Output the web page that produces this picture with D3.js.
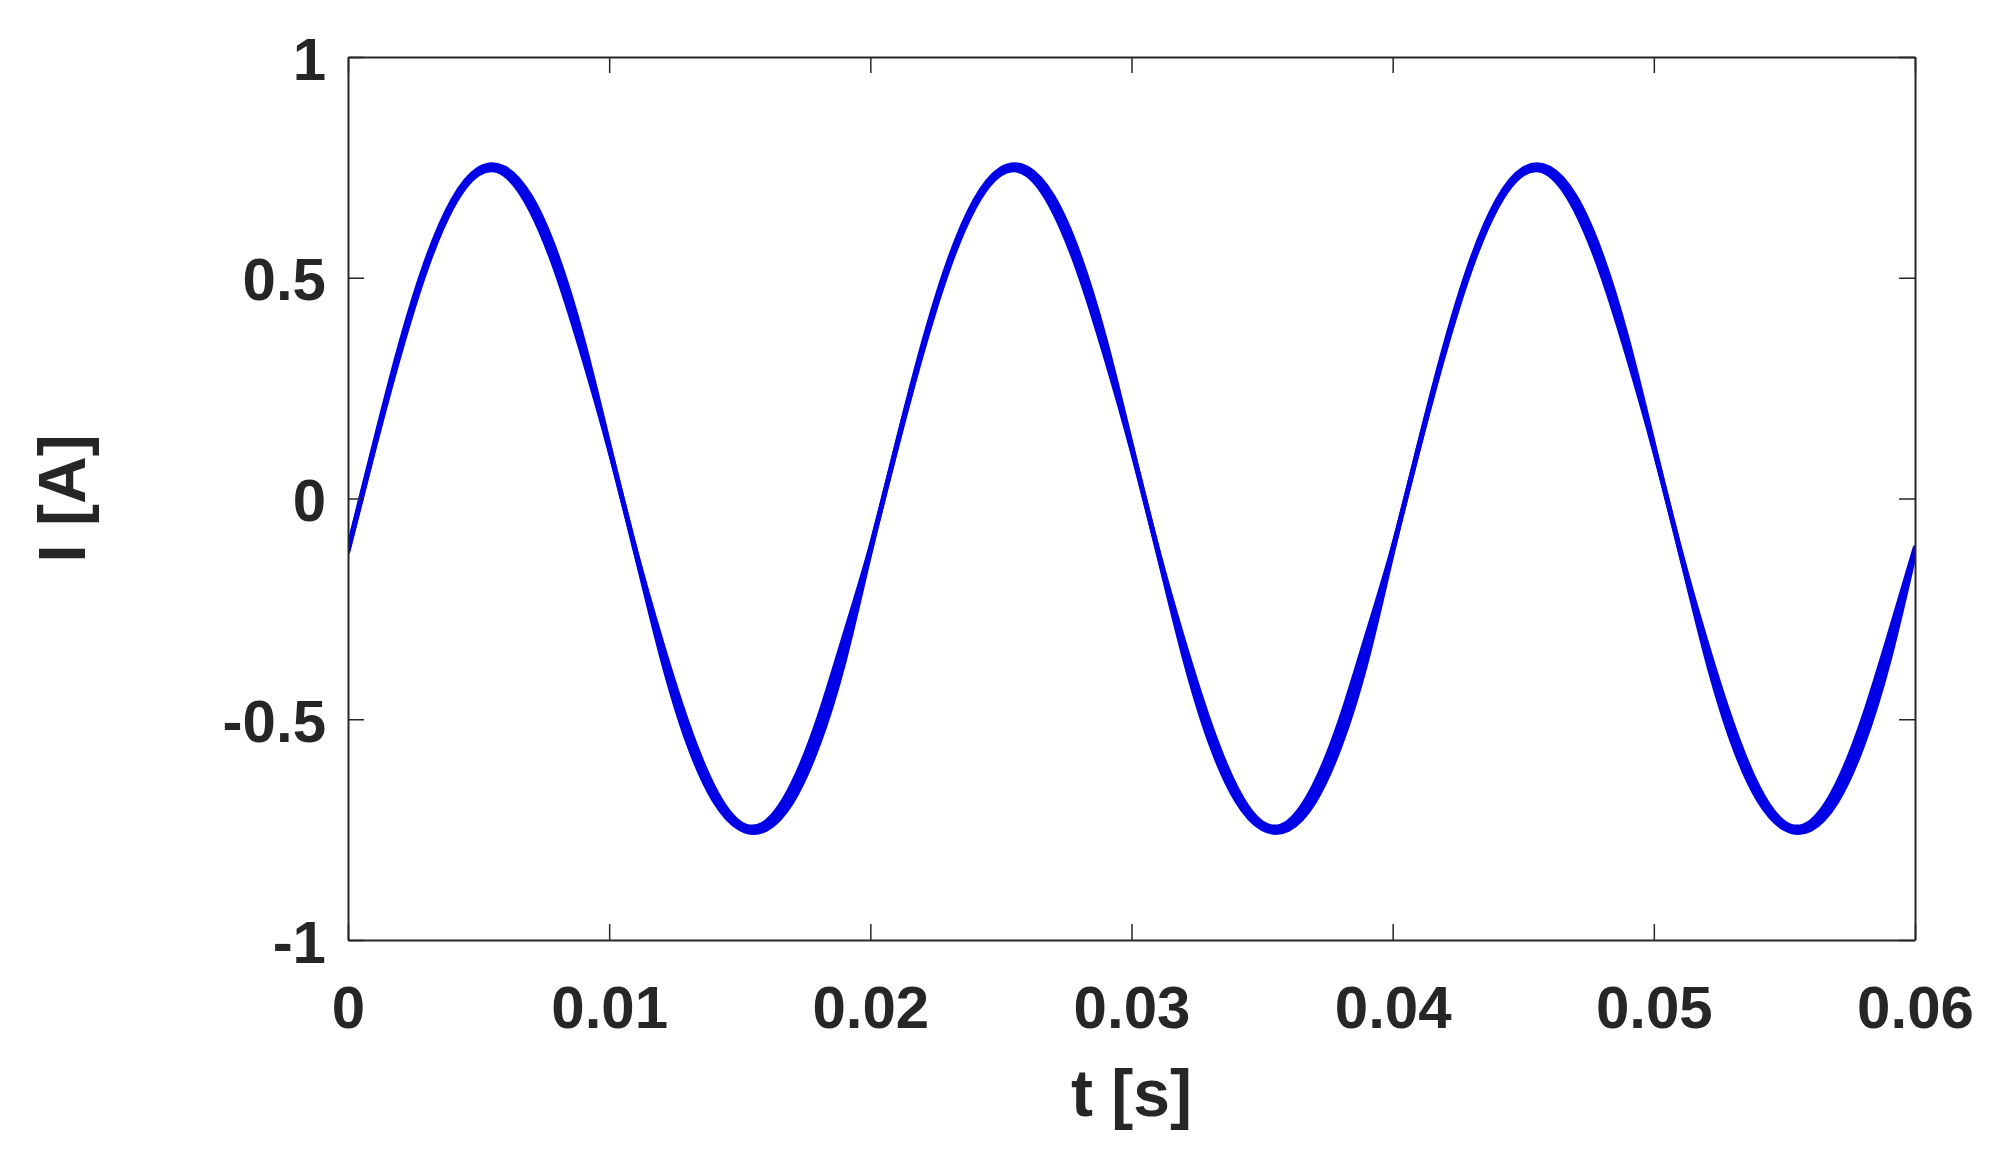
<!DOCTYPE html>
<html>
<head>
<meta charset="utf-8">
<script src="https://cdn.jsdelivr.net/npm/d3@7/dist/d3.min.js"></script>
<style>
    body { margin: 0; background: #fff; }
    text { font-family: "Liberation Sans", Arial, Helvetica, sans-serif; font-weight: bold; fill: #262626; }
</style>
</head>
<body>
<div id="chart"></div>
<script>
// time samples [s]
var tValues = [
    0.000, 0.001, 0.002, 0.003, 0.004, 0.005, 0.006, 0.007, 0.008, 0.009,
    0.010, 0.011, 0.012, 0.013, 0.014, 0.015, 0.016, 0.017, 0.018, 0.019,
    0.020, 0.021, 0.022, 0.023, 0.024, 0.025, 0.026, 0.027, 0.028, 0.029,
    0.030, 0.031, 0.032, 0.033, 0.034, 0.035, 0.036, 0.037, 0.038, 0.039,
    0.040, 0.041, 0.042, 0.043, 0.044, 0.045, 0.046, 0.047, 0.048, 0.049,
    0.050, 0.051, 0.052, 0.053, 0.054, 0.055, 0.056, 0.057, 0.058, 0.059,
    0.060
];
// current, middle of the trace [A]
var iCenter = [
    -0.117, 0.117, 0.340, 0.530, 0.668, 0.741, 0.741, 0.668, 0.530, 0.340,
    0.117, -0.117, -0.340, -0.530, -0.668, -0.741, -0.741, -0.668, -0.530, -0.340,
    -0.117, 0.117, 0.340, 0.530, 0.668, 0.741, 0.741, 0.668, 0.530, 0.340,
    0.117, -0.117, -0.340, -0.530, -0.668, -0.741, -0.741, -0.668, -0.530, -0.340,
    -0.117, 0.117, 0.340, 0.530, 0.668, 0.741, 0.741, 0.668, 0.530, 0.340,
    0.117, -0.117, -0.340, -0.530, -0.668, -0.741, -0.741, -0.668, -0.530, -0.340,
    -0.117
];
// half spread of the trace around the middle [A]
var iSpread = [
    0.004, 0.006, 0.010, 0.010, 0.008, 0.006, 0.008, 0.016, 0.022, 0.020,
    0.006, 0.004, 0.018, 0.022, 0.015, 0.007, 0.009, 0.020, 0.030, 0.030,
    0.006, 0.004, 0.008, 0.009, 0.008, 0.006, 0.008, 0.016, 0.022, 0.020,
    0.006, 0.004, 0.018, 0.022, 0.015, 0.007, 0.009, 0.020, 0.030, 0.030,
    0.006, 0.004, 0.008, 0.009, 0.008, 0.006, 0.008, 0.016, 0.022, 0.020,
    0.006, 0.004, 0.018, 0.022, 0.015, 0.007, 0.009, 0.020, 0.030, 0.030,
    0.006
];
var xTicks = [0, 0.01, 0.02, 0.03, 0.04, 0.05, 0.06];
var xTickLabels = ['0', '0.01', '0.02', '0.03', '0.04', '0.05', '0.06'];
var yTicks = [-1, -0.5, 0, 0.5, 1];
var yTickLabels = ['-1', '-0.5', '0', '0.5', '1'];

var width = 2006,
    height = 1162;
var margin = { left: 348, right: 91, top: 57, bottom: 222 };
var innerW = width - margin.left - margin.right;
var innerH = height - margin.top - margin.bottom;
var axisColor = '#262626';
var lineColor = '#0000e6';
var tickLen = 16;

var data = tValues.map(function(t, i) {
    return { t: t, i: iCenter[i], s: iSpread[i] };
});

var svg = d3.select('#chart').append('svg')
    .attr('width', width)
    .attr('height', height);

var x = d3.scaleLinear().domain([0, 0.06]).range([0, innerW]);
var y = d3.scaleLinear().domain([-1, 1]).range([innerH, 0]);

var g = svg.append('g')
    .attr('transform', 'translate(' + margin.left + ',' + margin.top + ')');

svg.append('defs').append('clipPath')
    .attr('id', 'plotClip')
    .append('rect')
    .attr('width', innerW)
    .attr('height', innerH);

var plot = g.append('g').attr('clip-path', 'url(#plotClip)');

// spread of the trace
var band = d3.area()
    .x(function(d) { return x(d.t); })
    .y0(function(d) { return y(d.i - d.s); })
    .y1(function(d) { return y(d.i + d.s); })
    .curve(d3.curveNatural);

plot.append('path')
    .datum(data)
    .attr('d', band)
    .style('fill', lineColor)
    .style('stroke', lineColor)
    .style('stroke-width', 4.5)
    .style('stroke-linejoin', 'round');

var line = d3.line()
    .x(function(d) { return x(d.t); })
    .y(function(d) { return y(d.i); })
    .curve(d3.curveNatural);

plot.append('path')
    .datum(data)
    .attr('d', line)
    .style('fill', 'none')
    .style('stroke', lineColor)
    .style('stroke-width', 5);

// axes, ticks pointing inward on all four sides
var xBottom = d3.axisBottom(x).tickValues(xTicks).tickSizeInner(-tickLen).tickSizeOuter(0)
    .tickFormat(function(d, i) { return xTickLabels[i]; });
var xTop = d3.axisTop(x).tickValues(xTicks).tickSizeInner(-tickLen).tickSizeOuter(0)
    .tickFormat('');
var yLeft = d3.axisLeft(y).tickValues(yTicks).tickSizeInner(-tickLen).tickSizeOuter(0)
    .tickFormat(function(d, i) { return yTickLabels[i]; });
var yRight = d3.axisRight(y).tickValues(yTicks).tickSizeInner(-tickLen).tickSizeOuter(0)
    .tickFormat('');

var gx = g.append('g').attr('transform', 'translate(0,' + innerH + ')').call(xBottom);
var gxt = g.append('g').call(xTop);
var gy = g.append('g').call(yLeft);
var gyr = g.append('g').attr('transform', 'translate(' + innerW + ',0)').call(yRight);

[gx, gxt, gy, gyr].forEach(function(a) {
    a.selectAll('path.domain').style('stroke', axisColor).style('stroke-width', 2);
    a.selectAll('.tick line').style('stroke', axisColor).style('stroke-width', 1.5);
});

gx.selectAll('.tick text')
    .attr('y', 88)
    .attr('dy', 0)
    .style('font-size', '60px')
    .style('font-family', '"Liberation Sans", Arial, sans-serif')
    .style('font-weight', 'bold')
    .style('fill', axisColor);

gy.selectAll('.tick text')
    .attr('x', -22)
    .attr('dy', 22)
    .style('font-size', '60px')
    .style('font-family', '"Liberation Sans", Arial, sans-serif')
    .style('font-weight', 'bold')
    .style('fill', axisColor);

// axis labels
svg.append('text')
    .attr('x', margin.left + innerW / 2)
    .attr('y', 1116)
    .attr('text-anchor', 'middle')
    .style('font-size', '66px')
    .text('t [s]');

svg.append('text')
    .attr('transform', 'translate(85,' + (margin.top + innerH / 2) + ') rotate(-90)')
    .attr('text-anchor', 'middle')
    .style('font-size', '66px')
    .text('I [A]');
</script>
</body>
</html>
